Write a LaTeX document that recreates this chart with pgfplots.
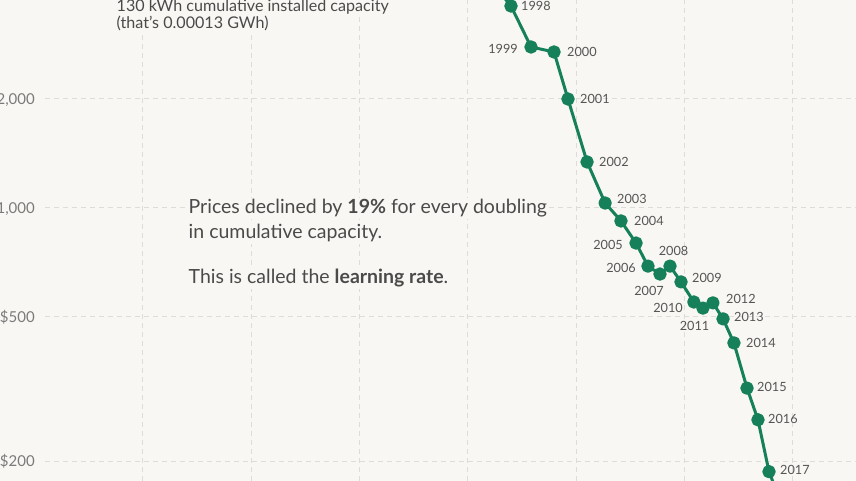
\documentclass[border=0pt]{standalone}
\usepackage{pgfplots}
\pgfplotsset{compat=1.18}
\usepackage{fontspec}
\setmainfont{Lato}
\definecolor{bg}{HTML}{F9F7F3}
\definecolor{owgreen}{HTML}{15805A}
\definecolor{gridc}{HTML}{DEDCD8}
\definecolor{tickc}{HTML}{7A7A7A}
\definecolor{labc}{HTML}{555555}
\definecolor{txtc}{HTML}{4A4A4A}
\begin{document}
\begin{tikzpicture}[x=1pt,y=1pt]
\fill[bg] (0,0) rectangle (856,481);
\useasboundingbox (0,0) rectangle (856,481);
\begin{axis}[
  at={(45pt,0pt)}, anchor=south west,
  scale only axis, width=811pt, height=481pt,
  xmode=log, ymode=log,
  xmin=1.245e-4, xmax=3834, ymin=176.2, ymax=3754,
  axis line style={draw=none},
  major tick length=0pt, minor tick length=0pt,
  xminorticks=false, yminorticks=false,
  xtick={0.001,0.01,0.1,1,10,100,1000}, xticklabels={},
  ytick={200,500,1000,2000},
  yticklabels={\$200,\$500,{\$1,000},{\$2,000}},
  xmajorgrids=true, ymajorgrids=true,
  major grid style={gridc, line width=1pt, dash pattern=on 5pt off 4pt},
  yticklabel style={font=\fontsize{15}{15}\selectfont, text=tickc, anchor=east, inner sep=0pt, xshift=-10pt},
  clip=true,
]
\addplot[owgreen, line width=3pt, line join=round, mark=*, mark size=5.2pt,
  mark options={solid, fill=owgreen, draw=none}] coordinates {
  (1.60,4263) (2.50,3613) (3.83,2784) (6.24,2697) (8.40,2000) (12.6,1340)
  (18.5,1032) (25.9,921) (35.7,800) (46.0,691) (59.4,657) (73.5,691)
  (92.9,625) (122,550) (148,529) (183,547) (227,494) (286,424)
  (378,318) (477,260) (603,187) (762,156)
};
\end{axis}
% year labels
\begin{scope}[every node/.style={font=\fontsize{12.7}{12.7}\selectfont, text=labc, inner sep=0pt}]
\foreach \t/\x/\y in {1998/521/6, 2000/567/52, 2001/580/99, 2002/599/162, 2003/617/199, 2004/634/221, 2009/692/278, 2012/726/299, 2013/734/317, 2014/746/343, 2015/757/387, 2016/768/419, 2017/780/470}
  \node[anchor=west] at (\x,481-\y) {\t};
\foreach \t/\x/\y in {1999/518/49, 2005/623/245, 2006/636/268, 2007/664/291, 2010/683/308}
  \node[anchor=east] at (\x,481-\y) {\t};
\foreach \t/\x/\y in {2008/673.5/251, 2011/694.5/326}
  \node[anchor=center] at (\x,481-\y) {\t};
\end{scope}
% annotations
\begin{scope}[every node/.style={text=txtc, fill=bg, inner sep=1.5pt, anchor=base west}]
\node[font=\fontsize{16.1}{16.1}\selectfont] at (115,481-12) {130 kWh cumulative installed capacity};
\node[font=\fontsize{16.1}{16.1}\selectfont] at (115,481-29) {(that’s 0.00013 GWh)};
\node[font=\fontsize{19.5}{19.5}\selectfont] at (187,481-214) {Prices declined by \textbf{19\%} for every doubling};
\node[font=\fontsize{19.5}{19.5}\selectfont] at (187,481-239) {in cumulative capacity.};
\node[font=\fontsize{19.5}{19.5}\selectfont] at (187,481-284) {This is called the \textbf{learning rate}.};
\end{scope}
\end{tikzpicture}
\end{document}
